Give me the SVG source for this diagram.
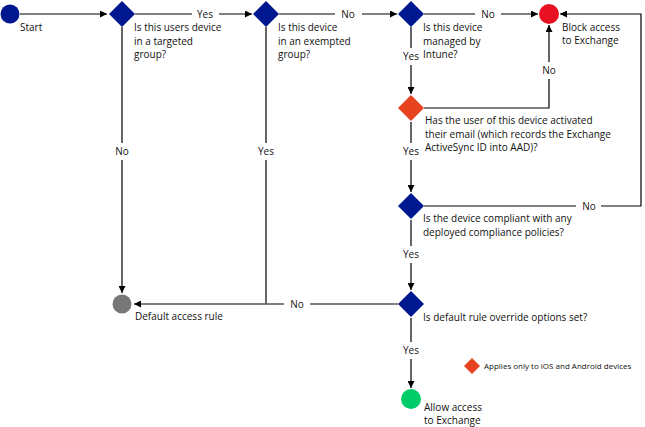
<svg xmlns="http://www.w3.org/2000/svg" width="645" height="427" viewBox="0 0 645 427">
<defs>
<marker id="ah" viewBox="0 0 10 10" refX="10" refY="5" markerWidth="7" markerHeight="7" markerUnits="userSpaceOnUse" orient="auto"><path d="M0,0 L10,5 L0,10 z" fill="#000"/></marker>
<style>
text{font-family:"Open Sans","Noto Sans",sans-serif;font-size:10px;fill:#111}
.lbl{text-anchor:middle}
.ln{stroke:#000;stroke-width:1.2;fill:none}
.gl{stroke:#555;stroke-width:1.6;fill:none}
.blue{fill:#00188F}
.sm{font-size:8px}
</style>
</defs>
<rect width="645" height="427" fill="#fff"/>
<g id="connectors">
<path class="ln" d="M20,14 H107" marker-end="url(#ah)"/>
<path class="ln" d="M135,14 H192 M219,14 H252" marker-end="url(#ah)"/>
<path class="ln" d="M279,14 H335 M362,14 H397" marker-end="url(#ah)"/>
<path class="ln" d="M424,14 H475 M501,14 H538" marker-end="url(#ah)"/>
<path class="ln" d="M424,206 H576 M601,206 H641 V14 H560" marker-end="url(#ah)"/>
<path class="ln" d="M424,108 H549 V79 M549,62 V25" marker-end="url(#ah)"/>
<path class="ln" d="M411,27 V48 M411,65 V94" marker-end="url(#ah)"/>
<path class="ln" d="M411,122 V143 M411,160 V192" marker-end="url(#ah)"/>
<path class="ln" d="M411,220 V246 M411,263 V290" marker-end="url(#ah)"/>
<path class="ln" d="M411,318 V342 M411,359 V388" marker-end="url(#ah)"/>
<path class="ln" d="M122,27 V143 M122,160 V293" marker-end="url(#ah)"/>
<path class="ln" d="M266,27 V143 M266,160 V304"/>
<path class="gl" d="M398,304 H310 M284,304 H134" marker-end="url(#ah)"/>
<text class="lbl" x="205" y="17.5">Yes</text>
<text class="lbl" x="348" y="17.5">No</text>
<text class="lbl" x="488" y="17.5">No</text>
<text class="lbl" x="411" y="60">Yes</text>
<text class="lbl" x="549" y="74">No</text>
<text class="lbl" x="411" y="155">Yes</text>
<text class="lbl" x="589" y="209.5">No</text>
<text class="lbl" x="411" y="258">Yes</text>
<text class="lbl" x="297" y="307.5">No</text>
<text class="lbl" x="411" y="354">Yes</text>
<text class="lbl" x="122" y="155">No</text>
<text class="lbl" x="266" y="155">Yes</text>
</g>
<g id="start"><circle cx="10" cy="14" r="9.5" class="blue"/><text x="20" y="31">Start</text></g>
<g id="d1"><path class="blue" d="M122,1 L135,14 L122,27 L109,14 z"/><text x="134" y="31">Is this users device</text><text x="134" y="45">in a targeted</text><text x="134" y="58">group?</text></g>
<g id="d2"><path class="blue" d="M266,1 L279,14 L266,27 L253,14 z"/><text x="278" y="31">Is this device</text><text x="278" y="45">in an exempted</text><text x="278" y="58">group?</text></g>
<g id="d3"><path class="blue" d="M411,1 L424,14 L411,27 L398,14 z"/><text x="423" y="31">Is this device</text><text x="423" y="45">managed by</text><text x="423" y="58">Intune?</text></g>
<g id="block"><circle cx="549" cy="14" r="10" fill="#E81123"/><text x="562" y="31">Block access</text><text x="562" y="44">to Exchange</text></g>
<g id="d-email"><path fill="#E8431F" d="M411,95 L424,108 L411,121 L398,108 z"/><text x="425" y="124">Has the user of this device activated</text><text x="425" y="138">their email (which records the Exchange</text><text x="425" y="151">ActiveSync ID into AAD)?</text></g>
<g id="d4"><path class="blue" d="M411,193 L424,206 L411,219 L398,206 z"/><text x="423" y="222">Is the device compliant with any</text><text x="423" y="236">deployed compliance policies?</text></g>
<g id="d5"><path class="blue" d="M411,291 L424,304 L411,317 L398,304 z"/><text x="423" y="321">Is default rule override options set?</text></g>
<g id="default"><circle cx="122" cy="304" r="9.5" fill="#777"/><text x="135" y="320">Default access rule</text></g>
<g id="allow"><circle cx="411" cy="399" r="10" fill="#00CC6A"/><text x="424" y="411">Allow access</text><text x="424" y="424">to Exchange</text></g>
<g id="legend"><path fill="#E8431F" d="M472,358 L480,366 L472,374 L464,366 z"/><text class="sm" x="484" y="369">Applies only to iOS and Android devices</text></g>
</svg>
